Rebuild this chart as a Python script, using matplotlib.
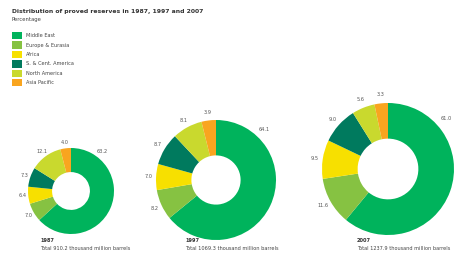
import matplotlib
matplotlib.use("Agg")
import numpy as np
import matplotlib.pyplot as plt

# regions, in the order they run clockwise from 12 o'clock
regions = ["Middle East", "Europe & Eurasia", "Africa",
           "S. & Cent. America", "North America", "Asia Pacific"]
colors = ["#00b35c", "#86c242", "#f7e000", "#007a5e", "#c9d92e", "#f9a51f"]

# percentage share of proved reserves
share_1987 = [63.2, 7.0, 6.4, 7.3, 12.1, 4.0]
share_1997 = [64.1, 8.2, 7.0, 8.7, 8.1, 3.9]
share_2007 = [61.0, 11.6, 9.5, 9.0, 5.6, 3.3]

years = ["1987", "1997", "2007"]
totals = ["Total 910.2 thousand million barrels",
          "Total 1069.3 thousand million barrels",
          "Total 1237.9 thousand million barrels"]

W, H = 454, 275
fig = plt.figure(figsize=(W / 100, H / 100), dpi=100)
ax = fig.add_axes([0, 0, 1, 1])

# (centre x, centre y in pixels from top, outer radius, hole ratio,
#  angle from 12 o'clock where the big slice's label sits)
donuts = [(71, 191, 43, 0.44, 33), (216, 180, 60, 0.41, 40),
          (388, 169, 66, 0.46, 46)]

wedges_all = []
for shares, (cx, cy, r, hole, lab_ang) in zip([share_1987, share_1997, share_2007], donuts):
    wedges, texts = ax.pie(
        shares, colors=colors, center=(cx, H - cy), radius=r,
        startangle=90, counterclock=False,
        labels=[f"{v:.1f}" for v in shares], labeldistance=1.13,
        textprops=dict(fontsize=3.6, color="#555555"),
        wedgeprops=dict(width=r * (1 - hole), linewidth=0))
    for t in texts:
        t.set_ha("center")
    # the big slice is labelled near its top-right, not at its middle
    a = np.radians(90 - lab_ang)
    texts[0].set_position((cx + 1.1 * r * np.cos(a), H - cy + 1.1 * r * np.sin(a)))
    texts[0].set_ha("left")
    wedges_all.append(wedges)

for year, total, (cx, cy, r, hole, _) in zip(years, totals, donuts):
    x0 = cx - 31
    ax.text(x0, H - 240, year, fontsize=3.6, fontweight="bold",
            color="#333333", va="center")
    ax.text(x0, H - 248, total, fontsize=3.6, color="#444444", va="center")

ax.text(12, H - 11, "Distribution of proved reserves in 1987, 1997 and 2007",
        fontsize=4.4, fontweight="bold", color="#333333", va="center")
ax.text(12, H - 19, "Percentage", fontsize=3.8, color="#444444", va="center")

leg = ax.legend(wedges_all[0], regions, loc="upper left",
                bbox_to_anchor=(10 / W, 1 - 30 / H), frameon=False,
                fontsize=3.6, handlelength=1.9, handleheight=1.9,
                labelspacing=0.4, handletextpad=0.8, borderaxespad=0)
for t in leg.get_texts():
    t.set_color("#444444")

ax.set_xlim(0, W)
ax.set_ylim(0, H)
ax.set_aspect("equal")
ax.axis("off")

fig.savefig("out.png", dpi=100, facecolor="white")
